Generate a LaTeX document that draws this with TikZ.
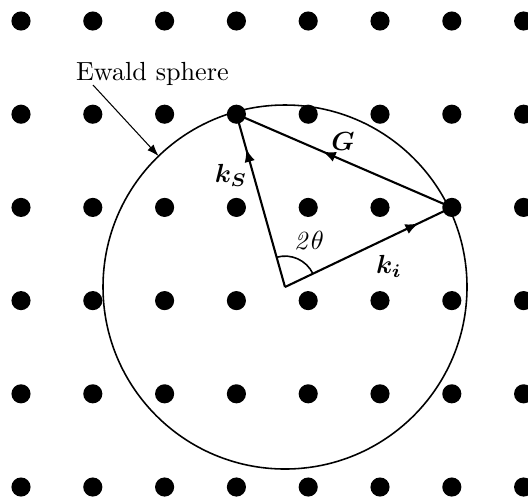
\documentclass[tikz,border=0pt]{standalone}
\usepackage{amsmath}
\usepackage{amssymb}
\usepackage{tikz}
\usetikzlibrary{positioning,calc,arrows.meta,decorations.markings,angles}
\tikzset{
  lattpt/.style={circle,fill=black,inner sep=0pt,minimum size=7.3pt},
  wavevec/.style={line width=0.8pt,postaction={decorate},
    decoration={markings,mark=at position #1 with {\arrow{Latex[length=5pt,width=4pt]}}}},
}

\begin{document}
\begin{tikzpicture}[x=0.3817pt,y=0.3817pt]
\clip (0,0) rectangle (528,497);
% reciprocal lattice
\foreach \i in {0,...,7}
  \foreach \j in {0,...,5}
    \node[lattpt] (p-\i-\j) at ({21+71.8*\i},{476-93.2*\j}) {};
\coordinate (O) at (285,210);
\coordinate (ki) at (p-6-2.center);
\coordinate (ks) at (p-3-1.center);
% Ewald sphere
\draw[line width=0.6pt] (O) circle (182);
\draw[wavevec=0.8] (O) -- (ki);
\draw[wavevec=0.8] (O) -- (ks);
\draw[wavevec=0.6] (ki) -- (ks);
\pic[draw,line width=0.6pt,angle radius=11.8pt] {angle=ki--O--ks};
\node (twotheta) at (309,257) {$\mathit{2}\theta$};
\node (kslabel) at (231,322) {$\boldsymbol{k_S}$};
\node (glabel) at (343,355) {$\boldsymbol{G}$};
\node (kilabel) at (389,231) {$\boldsymbol{k_i}$};
% label
\node[anchor=base] (ewald) at (152.4,417) {Ewald sphere};
\coordinate (ew-start) at (93,412);
\coordinate (ew-end) at ($(O)+(134:182)$);
\draw[line width=0.4pt,-{Latex[length=4.5pt,width=3.2pt]}] (ew-start) -- (ew-end);
\end{tikzpicture}
\end{document}
